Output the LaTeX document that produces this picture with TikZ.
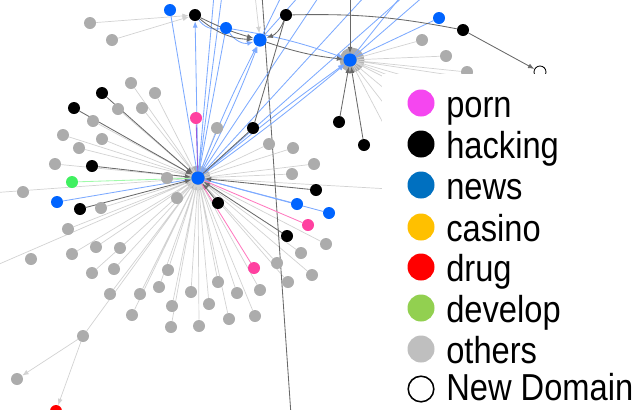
\documentclass[tikz,border=0pt]{standalone}
\usepackage{fontspec}
\setmainfont{Liberation Sans}
\newfontfamily\legfont{Liberation Sans}[FakeStretch=0.87]
\usetikzlibrary{arrows.meta}

\pgfdeclarelayer{rings}
\pgfdeclarelayer{edges}
\pgfdeclarelayer{legend}
\pgfsetlayers{rings,edges,main,legend}

\definecolor{ndgray}{RGB}{172,172,172}
\definecolor{ndblue}{RGB}{0,100,255}
\definecolor{ndpink}{RGB}{255,64,160}
\definecolor{ndgreen}{RGB}{64,240,96}
\definecolor{ndred}{RGB}{255,0,0}
\definecolor{egray}{RGB}{210,210,210}
\definecolor{edark}{RGB}{105,105,105}
\definecolor{eblue}{RGB}{125,170,255}
\definecolor{epink}{RGB}{255,120,190}
\definecolor{egreen}{RGB}{160,250,170}
\definecolor{epurple}{RGB}{150,90,220}
\definecolor{legporn}{RGB}{245,70,240}
\definecolor{legnews}{RGB}{0,112,192}
\definecolor{legcasino}{RGB}{255,192,0}
\definecolor{legdevelop}{RGB}{146,208,80}
\definecolor{legothers}{RGB}{191,191,191}

\tikzset{
  nd/.style={circle, fill=#1, inner sep=0pt, minimum size=0.3cm},
  hubring/.style={circle, fill=ndgray, inner sep=0pt, minimum size=0.62cm},
  hubdot/.style={circle, fill=ndblue, inner sep=0pt, minimum size=0.33cm},
  eg/.style={draw=egray, line width=0.5pt},
  ek/.style={draw=edark, line width=0.6pt},
  eb/.style={draw=eblue, line width=0.6pt},
  ep/.style={draw=epink, line width=0.6pt},
  arrowin/.style={-{Latex[length=4.5pt,width=3.5pt]}},
  lgdot/.style={circle, fill=#1, inner sep=0pt, minimum size=0.675cm},
  lgtext/.style={anchor=base west, inner sep=0pt, font=\legfont\fontsize{26.7pt}{30pt}\selectfont}
}

\begin{document}
\begin{tikzpicture}[x=0.025cm, y=-0.025cm]

\useasboundingbox (0,0) rectangle (643,409);

% hubs
\begin{pgfonlayer}{rings}
\node[hubring] (ringA) at (198,178) {};
\node[hubring] (ringB) at (352,60) {};
\end{pgfonlayer}
\node[hubdot] (hubA) at (198,178) {};
\node[hubdot] (hubB) at (350,60) {};
\node[hubdot] (hubC) at (260,40) {};

% blue
\node[nd=ndblue] (bl1) at (170,10) {};
\node[nd=ndblue] (bl2) at (226,28) {};
\node[nd=ndblue] (bl3) at (439,18) {};
\node[nd=ndblue] (bl4) at (57,202) {};
\node[nd=ndblue] (bl5) at (297,204) {};
\node[nd=ndblue] (bl6) at (329,213) {};

% black
\node[nd=black] (bk1) at (195,15) {};
\node[nd=black] (bk2) at (286,15) {};
\node[nd=black] (bk3) at (463,30) {};
\node[nd=black] (bk4) at (102,93) {};
\node[nd=black] (bk5) at (74,108) {};
\node[nd=black] (bk6) at (253,128) {};
\node[nd=black] (bk7) at (92,166) {};
\node[nd=black] (bk8) at (80,209) {};
\node[nd=black] (bk9) at (218,203) {};
\node[nd=black] (bk10) at (316,190) {};
\node[nd=black] (bk11) at (287,236) {};
\node[nd=black] (bk12) at (339,122) {};
\node[nd=black] (bk13) at (364,145) {};

% pink, green, red, new
\node[nd=ndpink] (pk1) at (196,118) {};
\node[nd=ndpink] (pk2) at (308,225) {};
\node[nd=ndpink] (pk3) at (254,268) {};
\node[nd=ndgreen] (gr1) at (72,182) {};
\node[nd=ndred] (rd1) at (56,411) {};
\node[circle, draw=black, fill=white, line width=0.6pt, inner sep=0pt, minimum size=0.3cm] (nw1) at (540,72) {};

% others
\node[nd=ndgray] (g1) at (90,23) {};
\node[nd=ndgray] (g2) at (112,40) {};
\node[nd=ndgray] (g3) at (422,40) {};
\node[nd=ndgray] (g4) at (446,56) {};
\node[nd=ndgray] (g5) at (467,72) {};
\node[nd=ndgray] (g6) at (131,83) {};
\node[nd=ndgray] (g7) at (155,93) {};
\node[nd=ndgray] (g8) at (118,109) {};
\node[nd=ndgray] (g9) at (142,108) {};
\node[nd=ndgray] (g10) at (93,121) {};
\node[nd=ndgray] (g11) at (63,135) {};
\node[nd=ndgray] (g12) at (102,139) {};
\node[nd=ndgray] (g13) at (79,148) {};
\node[nd=ndgray] (g14) at (55,164) {};
\node[nd=ndgray] (g15) at (217,128) {};
\node[nd=ndgray] (g16) at (167,178) {};
\node[nd=ndgray] (g17) at (23,192) {};
\node[nd=ndgray] (g18) at (177,198) {};
\node[nd=ndgray] (g19) at (101,208) {};
\node[nd=ndgray] (g20) at (68,229) {};
\node[nd=ndgray] (g21) at (31,259) {};
\node[nd=ndgray] (g22) at (72,254) {};
\node[nd=ndgray] (g23) at (96,247) {};
\node[nd=ndgray] (g24) at (120,248) {};
\node[nd=ndgray] (g25) at (92,273) {};
\node[nd=ndgray] (g26) at (114,269) {};
\node[nd=ndgray] (g27) at (168,270) {};
\node[nd=ndgray] (g28) at (110,294) {};
\node[nd=ndgray] (g29) at (140,294) {};
\node[nd=ndgray] (g30) at (159,287) {};
\node[nd=ndgray] (g31) at (191,292) {};
\node[nd=ndgray] (g32) at (218,282) {};
\node[nd=ndgray] (g33) at (237,293) {};
\node[nd=ndgray] (g34) at (260,290) {};
\node[nd=ndgray] (g35) at (132,315) {};
\node[nd=ndgray] (g36) at (172,306) {};
\node[nd=ndgray] (g37) at (209,304) {};
\node[nd=ndgray] (g38) at (171,327) {};
\node[nd=ndgray] (g39) at (199,326) {};
\node[nd=ndgray] (g40) at (229,319) {};
\node[nd=ndgray] (g41) at (255,316) {};
\node[nd=ndgray] (g42) at (83,336) {};
\node[nd=ndgray] (g43) at (17,379) {};
\node[nd=ndgray] (g44) at (269,144) {};
\node[nd=ndgray] (g45) at (293,148) {};
\node[nd=ndgray] (g46) at (314,164) {};
\node[nd=ndgray] (g47) at (292,174) {};
\node[nd=ndgray] (g48) at (326,244) {};
\node[nd=ndgray] (g49) at (301,253) {};
\node[nd=ndgray] (g50) at (277,263) {};
\node[nd=ndgray] (g51) at (312,275) {};
\node[nd=ndgray] (g52) at (288,282) {};

% free ends
\coordinate (offL1) at (-10,193);
\coordinate (offL2) at (-10,268);
\coordinate (offR1) at (460,193);
\coordinate (lnTop) at (262,-5);
\coordinate (lnBot) at (291,415);
\coordinate (topA1) at (214,-5);
\coordinate (topA2) at (222,-5);
\coordinate (topA3) at (320,-5);
\coordinate (topA4) at (366,-5);
\coordinate (topA5) at (405,-5);
\coordinate (topC1) at (282,-5);
\coordinate (topC2) at (300,-5);
\coordinate (topC3) at (255,-5);
\coordinate (topB1) at (350,-5);
\coordinate (topB2) at (402,-5);
\coordinate (topB3) at (425,-5);
\coordinate (fanB1) at (470,78);
\coordinate (fanB2) at (470,95);
\coordinate (fanB3) at (460,115);
\coordinate (fanB4) at (440,135);
\coordinate (fanB5) at (420,150);
\coordinate (fanB6) at (405,165);
\coordinate (fanB7) at (430,92);

\begin{pgfonlayer}{edges}
\draw[eg] (hubA) -- (g6) (hubA) -- (g7) (hubA) -- (g8) (hubA) -- (g9)
  (hubA) -- (g10) (hubA) -- (g11) (hubA) -- (g12) (hubA) -- (g13)
  (hubA) -- (g14) (hubA) -- (g15) (hubA) -- (g16) (hubA) -- (offL1)
  (hubA) -- (g18) (hubA) -- (g19) (hubA) -- (g20) (hubA) -- (offL2)
  (hubA) -- (g22) (hubA) -- (g23) (hubA) -- (g24) (hubA) -- (g25)
  (hubA) -- (g26) (hubA) -- (g27) (hubA) -- (g28) (hubA) -- (g29)
  (hubA) -- (g30) (hubA) -- (g31) (hubA) -- (g32) (hubA) -- (g33)
  (hubA) -- (g34) (hubA) -- (g35) (hubA) -- (g36) (hubA) -- (g37)
  (hubA) -- (g38) (hubA) -- (g39) (hubA) -- (g40) (hubA) -- (g41)
  (hubA) -- (g42) (hubA) -- (g44) (hubA) -- (g45) (hubA) -- (g46)
  (hubA) -- (g47) (hubA) -- (g48) (hubA) -- (g49) (hubA) -- (g50)
  (hubA) -- (g51) (hubA) -- (g52) (hubA) -- (offR1);
\draw[eg] (hubB) -- (g3) (hubB) -- (g4) (hubB) -- (g5) (hubB) -- (fanB1)
  (hubB) -- (fanB2) (hubB) -- (fanB3) (hubB) -- (fanB4) (hubB) -- (fanB5)
  (hubB) -- (fanB6) (hubB) -- (fanB7);
\draw[eg,arrowin] (g1) -- (bk1);
\draw[eg,arrowin] (g2) -- (bk1);
\draw[eg,arrowin] (g42) -- (g43);
\draw[eg,arrowin] (g42) -- (rd1);
\draw[eg,arrowin] (topC3) -- (hubC);

\draw[ek] (lnTop) -- (lnBot);

\draw[eb,arrowin] (hubA) -- (bk1);
\draw[eb] (hubA) -- (bl1);
\draw[eb,arrowin] (hubA) to[bend left=3] (hubC);
\draw[eb,arrowin] (hubA) to[bend right=3] (hubC);
\draw[eb] (hubA) -- (bl2);
\draw[eb,arrowin] (hubA) to[bend left=2] (hubB);
\draw[eb,arrowin] (hubA) to[bend right=2] (hubB);
\draw[eb] (hubA) -- (topA1) (hubA) -- (topA2) (hubA) -- (topA3)
  (hubA) -- (topA4) (hubA) -- (topA5);
\draw[eb] (hubC) -- (topC1) (hubC) -- (topC2);
\draw[eb] (hubB) -- (topB2) (hubB) -- (topB3) (hubB) -- (bl3);
\draw[eb] (bk1) to[bend right=30] (bl2);
\draw[eb,arrowin] (bl2) to[bend right=35] (hubC);
\draw[eb,arrowin] (bl2) to[bend left=5] (hubB);
\draw[eb] (bl4) -- (hubA);
\draw[eb] (hubA) -- (bl5);
\draw[eb] (hubA) -- (bl6);

\draw[ek,arrowin] (bk1) to[bend right=18] (hubC);
\draw[ek,arrowin] (bk1) to[bend right=5] (hubC);
\draw[ek,arrowin] (bk2) to[bend left=25] (hubC);
\draw[ek,arrowin] (hubC) to[bend right=6] (hubB);
\draw[ek] (hubA) -- (bk6);
\draw[ek] (bk6) -- (bk2);
\draw[ek] (bk2) to[bend left=6] (bk3);
\draw[ek,arrowin] (bk3) -- (nw1);
\draw[ek,arrowin] (topB1) -- (hubB);
\draw[ek,arrowin] (bk12) -- (hubB);
\draw[ek,arrowin] (bk13) -- (hubB);
\draw[ek,arrowin] (bk4) -- (hubA);
\draw[ek,arrowin] (bk5) -- (hubA);
\draw[ek,arrowin] (bk7) -- (hubA);
\draw[ek,arrowin] (bk8) -- (hubA);
\draw[ek,arrowin] (bk9) -- (hubA);
\draw[ek,arrowin] (bk10) -- (hubA);
\draw[ek,arrowin] (bk11) -- (hubA);

\draw[draw=egreen, line width=0.6pt] (gr1) -- (hubA);
\draw[draw=epurple, line width=0.6pt] (pk1) -- (hubA);
\draw[ep] (hubA) -- (pk2);
\draw[ep] (hubA) -- (pk3);
\end{pgfonlayer}

% legend
\begin{pgfonlayer}{legend}
\fill[white] (382,74) rectangle (643,409);
\node[lgdot=legporn] (kporn) at (421,103) {};
\node[lgdot=black] (khack) at (421,144) {};
\node[lgdot=legnews] (knews) at (421,185) {};
\node[lgdot=legcasino] (kcas) at (421,227) {};
\node[lgdot=ndred] (kdrug) at (421,267) {};
\node[lgdot=legdevelop] (kdev) at (421,308) {};
\node[lgdot=legothers] (koth) at (421,349) {};
\node[circle, draw=black, fill=white, line width=1.1pt, inner sep=0pt, minimum size=0.64cm] (knew) at (421,389) {};
\node[lgtext] (tporn) at (446,117) {porn};
\node[lgtext] (thack) at (446,158) {hacking};
\node[lgtext] (tnews) at (446,199) {news};
\node[lgtext] (tcas) at (446,241) {casino};
\node[lgtext] (tdrug) at (446,281) {drug};
\node[lgtext] (tdev) at (446,322) {develop};
\node[lgtext] (toth) at (446,363) {others};
\node[lgtext] (tnew) at (446,400) {New Domain};
\end{pgfonlayer}

\end{tikzpicture}
\end{document}
